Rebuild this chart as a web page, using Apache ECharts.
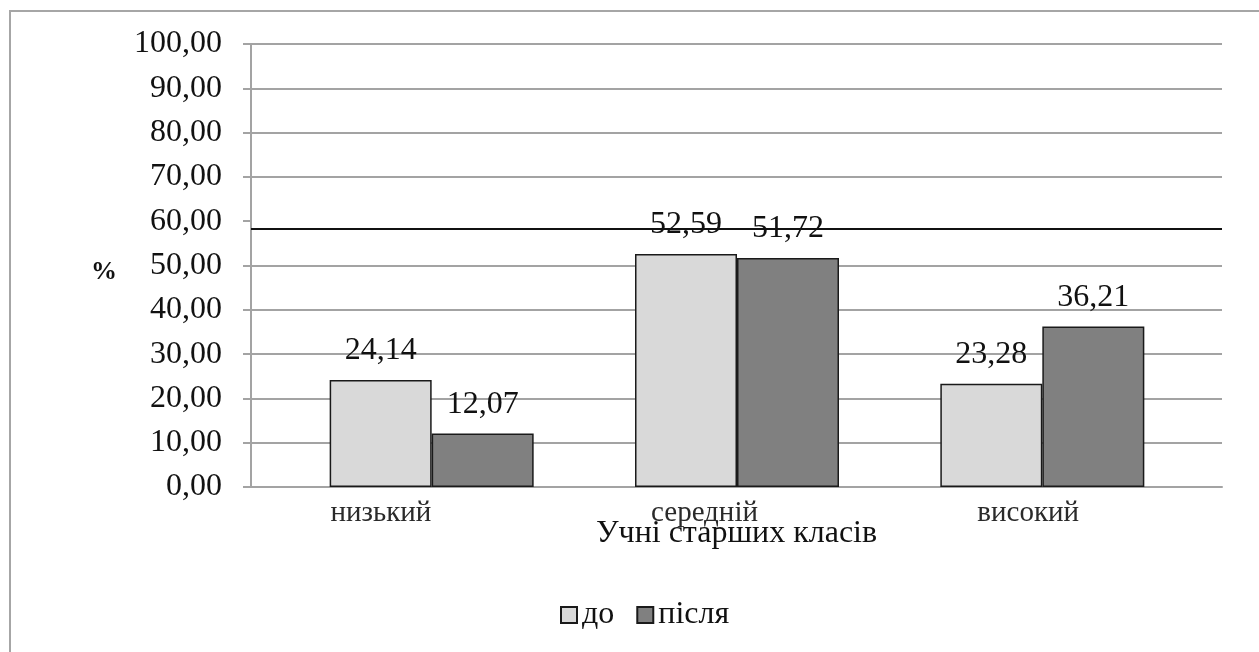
<!DOCTYPE html>
<html>
<head>
<meta charset="utf-8">
<script src="https://cdn.jsdelivr.net/npm/echarts@6/dist/echarts.min.js"></script>
<style>
  html, body { margin: 0; padding: 0; background: #fff; }
  #chart { width: 1259px; height: 652px; }
</style>
</head>
<body>
<div id="chart"></div>
<script>
// Рівні: низький / середній / високий, до і після експерименту (%)
const categories = ['низький', 'середній', 'високий'];
const before = [24.14, 52.59, 23.28];
const after = [12.07, 51.72, 36.21];
const seriesNames = ['до', 'після'];
const yTicks = [0, 10, 20, 30, 40, 50, 60, 70, 80, 90, 100];
const refLineValue = 58.4;
const axisTitle = 'Учні старших класів';
const unitLabel = '%';

const SERIF = '"Liberation Serif", "Times New Roman", serif';
const GRID_GRAY = '#a3a3a3';
const fmt = v => Number(v).toFixed(2).replace('.', ',');

// gridline colours per tick; the 60 line is replaced by the dark reference line
const splitColors = yTicks.map(t => (t === 60 ? 'rgba(0,0,0,0)' : GRID_GRAY));

const chart = echarts.init(document.getElementById('chart'), null, { renderer: 'canvas' });

const barLabel = {
  show: true,
  position: 'top',
  distance: 13,
  fontFamily: SERIF,
  fontSize: 32,
  color: '#111',
  formatter: p => fmt(p.value)
};

chart.setOption({
  backgroundColor: '#fff',
  animation: false,
  graphic: [{
    type: 'rect',
    shape: { x: 10, y: 11, width: 1400, height: 800 },
    style: { fill: 'none', stroke: '#a6a6a6', lineWidth: 2 },
    silent: true,
    z: -1
  }],
  legend: {
    data: seriesNames,
    left: 555,
    top: 594,
    itemWidth: 16,
    itemHeight: 16,
    itemGap: 22,
    icon: 'rect',
    itemStyle: { borderColor: '#1a1a1a', borderWidth: 2 },
    textStyle: { fontFamily: SERIF, fontSize: 32, color: '#111', padding: [4, 0, 0, 0] }
  },
  grid: [
    { left: 251, right: 37, top: 44, bottom: 165, containLabel: false },
    { left: 279, right: 64, top: 44, bottom: 165, containLabel: false }
  ],
  xAxis: [
    {
      type: 'category',
      gridIndex: 0,
      data: categories,
      axisLine: { show: true, lineStyle: { color: GRID_GRAY, width: 2 } },
      axisTick: { show: false },
      axisLabel: {
        margin: 12,
        fontFamily: SERIF,
        fontSize: 29,
        color: '#2a2a2a',
        padding: [0, 64, 0, 0]
      },
      name: axisTitle,
      nameLocation: 'middle',
      nameGap: 31,
      nameMoveOverlap: false,
      nameTextStyle: { fontFamily: SERIF, fontSize: 32, color: '#111' }
    },
    {
      type: 'category',
      gridIndex: 1,
      data: categories,
      show: false
    }
  ],
  yAxis: [
    {
      type: 'value',
      gridIndex: 0,
      min: 0,
      max: 100,
      interval: 10,
      axisLine: { show: true, lineStyle: { color: GRID_GRAY, width: 2 } },
      axisTick: { show: true, length: 8, lineStyle: { color: GRID_GRAY, width: 2 } },
      splitLine: { show: true, lineStyle: { color: splitColors, width: 2 } },
      axisLabel: {
        margin: 29,
        fontFamily: SERIF,
        fontSize: 32,
        color: '#111',
        formatter: v => fmt(v)
      },
      name: unitLabel,
      nameLocation: 'middle',
      nameRotate: 0,
      nameGap: 134,
      nameMoveOverlap: false,
      nameTextStyle: {
        fontFamily: SERIF, fontSize: 26, fontWeight: 'bold', color: '#111',
        verticalAlign: 'top', lineHeight: 14
      }
    },
    {
      type: 'value',
      gridIndex: 1,
      min: 0,
      max: 100,
      interval: 10,
      show: false
    }
  ],
  series: [
    {
      name: seriesNames[0],
      type: 'bar',
      xAxisIndex: 1,
      yAxisIndex: 1,
      data: before,
      barWidth: 102,
      barGap: '0%',
      itemStyle: { color: '#d9d9d9', borderColor: '#1a1a1a', borderWidth: 1.5 },
      label: barLabel
    },
    {
      name: seriesNames[1],
      type: 'bar',
      xAxisIndex: 1,
      yAxisIndex: 1,
      data: after,
      barWidth: 102,
      barGap: '0%',
      itemStyle: { color: '#808080', borderColor: '#1a1a1a', borderWidth: 1.5 },
      label: barLabel
    },
    {
      // dark horizontal reference line across the plot area
      type: 'line',
      xAxisIndex: 0,
      yAxisIndex: 0,
      data: [],
      silent: true,
      markLine: {
        silent: true,
        symbol: 'none',
        label: { show: false },
        lineStyle: { color: '#111', width: 2, type: 'solid' },
        data: [{ yAxis: refLineValue }]
      }
    }
  ]
});
</script>
</body>
</html>
